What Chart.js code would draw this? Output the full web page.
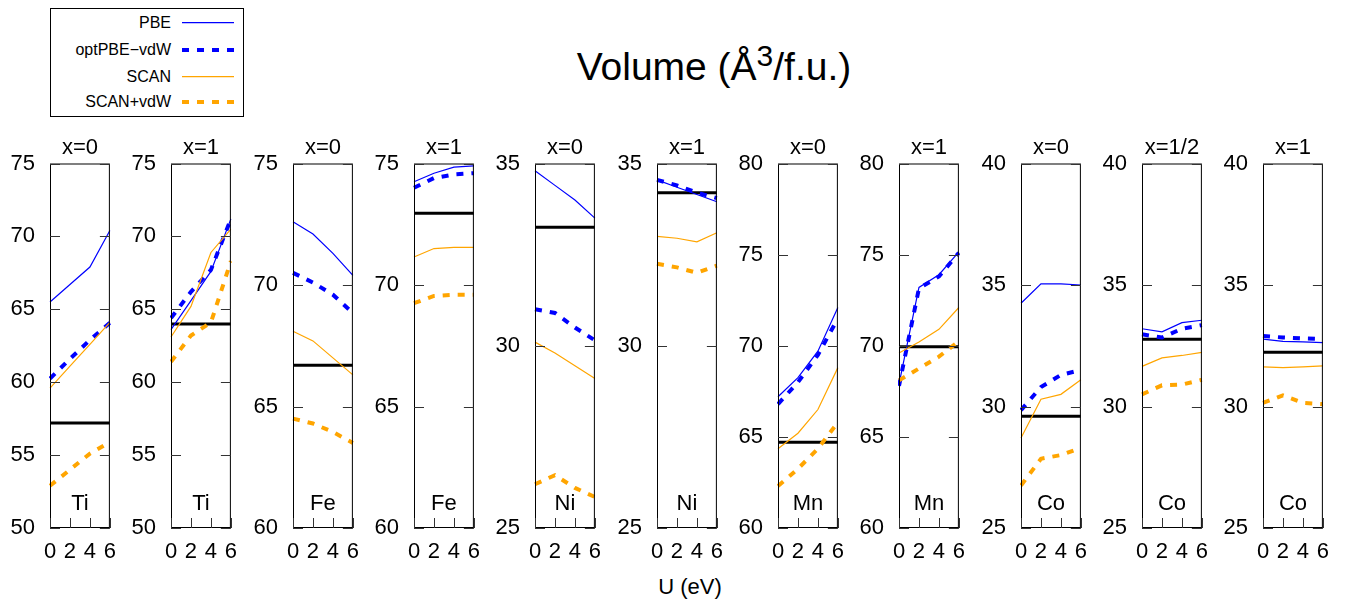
<!DOCTYPE html>
<html>
<head>
<meta charset="utf-8">
<script src="https://cdn.jsdelivr.net/npm/chart.js@4.4.0/dist/chart.umd.min.js"></script>
<style>
  html, body { margin: 0; padding: 0; background: #fff; }
  body { width: 1350px; height: 604px; overflow: hidden; position: relative;
         font-family: "Liberation Sans", Arial, Helvetica, sans-serif; color: #000; }
  .panel { position: absolute; top: 130px; height: 440px; width: 125px; }
  #title { position: absolute; left: 464px; width: 500px; top: 47px; text-align: center;
           font-size: 39px; line-height: 39px; white-space: nowrap; }
  #title span.sup { font-size: 30px; position: relative; top: -14px; }
  #xlabel { position: absolute; left: 590px; width: 200px; top: 576px; text-align: center;
            font-size: 22px; line-height: 22px; }
  #legend { position: absolute; left: 50px; top: 8px; width: 192px; height: 107px;
            border: 1px solid #000; box-sizing: content-box; }
  .lg { position: absolute; right: 72px; font-size: 16px; line-height: 16px; white-space: nowrap; text-align: right; }
  #legend svg { position: absolute; left: 0; top: 0; }
</style>
</head>
<body>
<div id="title">Volume (Å<span class="sup">3</span>/f.u.)</div>
<div id="xlabel">U (eV)</div>
<div id="legend"></div>
<div id="panels"></div>

<script>
// ---------------- data ----------------
const uValues = [0, 2, 4, 6];
const elements = ['Ti', 'Ti', 'Fe', 'Fe', 'Ni', 'Ni', 'Mn', 'Mn', 'Co', 'Co', 'Co'];
const compositions = ['x=0', 'x=1', 'x=0', 'x=1', 'x=0', 'x=1', 'x=0', 'x=1', 'x=0', 'x=1/2', 'x=1'];
const yMin = [50, 50, 60, 60, 25, 25, 60, 60, 25, 25, 25];
const yMax = [75, 75, 75, 75, 35, 35, 80, 80, 40, 40, 40];
const yStep = 5;

const seriesNames = ['PBE', 'optPBE\u2212vdW', 'SCAN', 'SCAN+vdW'];

const pbe = [
  [65.5, 66.7, 67.9, 70.4],
  [63.6, 65.6, 67.6, 71.2],
  [72.6, 72.1, 71.3, 70.4],
  [74.25, 74.6, 74.85, 74.9],
  [34.8, 34.4, 34.0, 33.5],
  [34.55, 34.35, 34.15, 33.95],
  [67.2, 68.25, 69.7, 72.1],
  [67.9, 73.2, 73.9, 75.15],
  [34.25, 35.05, 35.05, 35.0],
  [33.2, 33.07, 33.45, 33.55],
  [32.77, 32.68, 32.66, 32.63]
];
const optpbe = [
  [60.25, 61.6, 62.9, 64.07],
  [64.4, 66.2, 67.7, 71.2],
  [70.5, 70.1, 69.6, 68.85],
  [74.0, 74.4, 74.55, 74.6],
  [31.0, 30.9, 30.5, 30.15],
  [34.55, 34.4, 34.2, 34.05],
  [66.8, 68.0, 69.5, 71.5],
  [67.8, 73.15, 73.8, 75.1],
  [29.85, 30.8, 31.3, 31.5],
  [32.97, 32.84, 33.2, 33.35],
  [32.9, 32.84, 32.8, 32.78]
];
const scan = [
  [59.6, 61.1, 62.6, 64.1],
  [63.1, 65.2, 68.9, 70.5],
  [68.1, 67.7, 67.0, 66.3],
  [71.15, 71.5, 71.55, 71.55],
  [30.1, 29.8, 29.45, 29.1],
  [33.0, 32.95, 32.85, 33.1],
  [64.35, 65.2, 66.5, 68.8],
  [69.6, 70.2, 70.9, 72.1],
  [28.7, 30.3, 30.5, 31.1],
  [31.65, 32.0, 32.1, 32.23],
  [31.63, 31.6, 31.63, 31.67]
];
const scanvdw = [
  [52.9, 54.0, 55.1, 55.9],
  [61.4, 63.2, 64.1, 68.3],
  [64.5, 64.3, 63.95, 63.5],
  [69.25, 69.55, 69.6, 69.6],
  [26.2, 26.45, 26.1, 25.85],
  [32.25, 32.15, 32.0, 32.2],
  [62.3, 63.25, 64.35, 65.8],
  [68.1, 68.75, 69.4, 70.25],
  [26.75, 27.85, 28.0, 28.3],
  [30.5, 30.87, 30.9, 31.1],
  [30.15, 30.46, 30.15, 30.1]
];
const expt = [57.2, 64.0, 66.7, 72.95, 33.25, 34.2, 64.7, 69.95, 29.6, 32.77, 32.23];

// ---------------- styles ----------------
const FONT = '"Liberation Sans", Arial, Helvetica, sans-serif';
const BLUE = '#0000ff';
const ORANGE = '#ffa500';
const styles = [
  { color: BLUE,   width: 1.2, dash: [] },
  { color: BLUE,   width: 4,   dash: [7, 8] },
  { color: ORANGE, width: 1.2, dash: [] },
  { color: ORANGE, width: 4,   dash: [7, 8] }
];

// ---------------- legend ----------------
(function buildLegend() {
  const lg = document.getElementById('legend');
  const centers = [13.7, 41, 67.7, 93];
  let svg = '<svg width="192" height="107" xmlns="http://www.w3.org/2000/svg">';
  seriesNames.forEach((name, k) => {
    const d = document.createElement('div');
    d.className = 'lg';
    d.style.top = (centers[k] - 7.8) + 'px';
    d.textContent = name;
    lg.appendChild(d);
    const st = styles[k];
    svg += '<line x1="131" x2="183" y1="' + centers[k] + '" y2="' + centers[k] +
      '" stroke="' + st.color + '" stroke-width="' + st.width + '"' +
      (st.dash.length ? ' stroke-dasharray="' + st.dash.join(',') + '"' : '') + '/>';
  });
  svg += '</svg>';
  lg.insertAdjacentHTML('beforeend', svg);
})();

// ---------------- panel decoration plugin ----------------
const panelDecor = {
  id: 'panelDecor',
  afterDraw(chart, args, opts) {
    const { ctx, chartArea: a, scales } = chart;
    ctx.save();
    // frame
    ctx.strokeStyle = '#000';
    ctx.lineWidth = 1;
    ctx.strokeRect(a.left + 0.5, a.top + 0.5, a.right - a.left - 1, a.bottom - a.top - 1);
    // inward tick marks
    ctx.strokeStyle = '#333';
    ctx.beginPath();
    scales.y.ticks.forEach(t => {
      const y = Math.round(scales.y.getPixelForValue(t.value)) + 0.5;
      ctx.moveTo(a.left, y); ctx.lineTo(a.left + 10, y);
      ctx.moveTo(a.right - 10, y); ctx.lineTo(a.right, y);
    });
    scales.x.ticks.forEach(t => {
      const x = Math.round(scales.x.getPixelForValue(t.value)) + 0.5;
      ctx.moveTo(x, a.bottom); ctx.lineTo(x, a.bottom - 10);
    });
    ctx.stroke();
    // texts
    ctx.fillStyle = '#000';
    ctx.textAlign = 'center';
    ctx.textBaseline = 'alphabetic';
    ctx.font = '22px ' + FONT;
    const cx = (a.left + a.right) / 2;
    ctx.fillText(opts.top, cx, a.top - 9.5);
    ctx.fillText(opts.element, cx, a.bottom - 18);
    ctx.restore();
  }
};

// ---------------- panels ----------------
const AXIS_W = 48, PLOT_W = 67, PITCH = 121.33;
const container = document.getElementById('panels');

elements.forEach((el, i) => {
  const plotLeft = Math.round(50 + i * PITCH);
  const div = document.createElement('div');
  div.className = 'panel';
  div.style.left = (plotLeft - AXIS_W) + 'px';
  const cv = document.createElement('canvas');
  div.appendChild(cv);
  container.appendChild(div);

  const series = [pbe[i], optpbe[i], scan[i], scanvdw[i]];
  const datasets = series.map((vals, k) => ({
    label: seriesNames[k],
    data: uValues.map((u, j) => ({ x: u, y: vals[j] })),
    borderColor: styles[k].color,
    borderWidth: styles[k].width,
    borderDash: styles[k].dash,
    pointRadius: 0,
    tension: 0,
    fill: false,
    clip: 1,
    order: 4 - k
  }));
  datasets.push({
    label: 'Expt',
    data: [{ x: uValues[0], y: expt[i] }, { x: uValues[uValues.length - 1], y: expt[i] }],
    borderColor: '#000',
    borderWidth: 3,
    pointRadius: 0,
    fill: false,
    clip: 0,
    order: 5
  });

  new Chart(cv, {
    type: 'line',
    data: { datasets },
    plugins: [panelDecor],
    options: {
      responsive: true,
      maintainAspectRatio: false,
      animation: false,
      devicePixelRatio: 1,
      layout: { padding: { top: 33.5, right: 10, left: 0, bottom: 0 } },
      plugins: {
        legend: { display: false },
        tooltip: { enabled: false },
        title: { display: false },
        panelDecor: { top: compositions[i], element: el }
      },
      scales: {
        x: {
          type: 'linear',
          min: uValues[0],
          max: uValues[uValues.length - 1],
          grid: { display: false, drawTicks: false },
          border: { display: false },
          ticks: { stepSize: 2, autoSkip: false, maxRotation: 0, padding: 11,
                   color: '#000', font: { size: 22, family: FONT } },
          afterFit: s => { s.height = 42; }
        },
        y: {
          type: 'linear',
          min: yMin[i],
          max: yMax[i],
          grid: { display: false, drawTicks: false },
          border: { display: false },
          ticks: { stepSize: yStep, autoSkip: false, padding: 15,
                   color: '#000', font: { size: 22, family: FONT } },
          afterFit: s => { s.width = AXIS_W; }
        }
      }
    }
  });
});
</script>
</body>
</html>
